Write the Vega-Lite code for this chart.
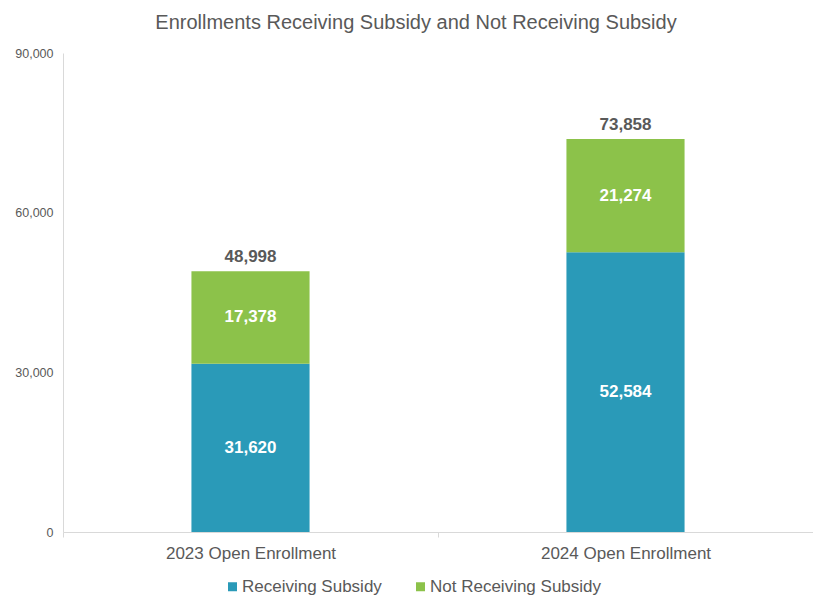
{
  "$schema": "https://vega.github.io/schema/vega-lite/v6.json",
  "autosize": {"type": "none"},
  "width": 750,
  "height": 479,
  "padding": {"left": 63, "top": 53, "right": 0, "bottom": 73},
  "background": "white",
  "config": {
    "view": {"stroke": null},
    "font": "Liberation Sans",
    "axisY": {
      "format": ",.0f",
      "ticks": false,
      "grid": false,
      "domainColor": "#d9d9d9",
      "labelFont": "Liberation Sans",
      "labelFontSize": 12.5,
      "labelColor": "#595959",
      "labelPadding": 10,
      "labelFlush": false
    }
  },
  "title": {
    "text": "Enrollments Receiving Subsidy and Not Receiving Subsidy",
    "font": "Liberation Sans",
    "fontSize": 20,
    "fontWeight": "normal",
    "color": "#595959",
    "anchor": "middle",
    "offset": 14,
    "dx": -22
  },
  "data": {
    "values": [
      {"period": "2023 Open Enrollment", "series": "Receiving Subsidy", "value": 31620},
      {"period": "2023 Open Enrollment", "series": "Not Receiving Subsidy", "value": 17378},
      {"period": "2024 Open Enrollment", "series": "Receiving Subsidy", "value": 52584},
      {"period": "2024 Open Enrollment", "series": "Not Receiving Subsidy", "value": 21274}
    ]
  },
  "encoding": {
    "x": {
      "field": "period",
      "type": "nominal",
      "title": null,
      "sort": null,
      "scale": {"paddingInner": 0, "paddingOuter": 0},
      "axis": {
        "labelAngle": 0,
        "tickBand": "extent",
        "tickColor": "#d9d9d9",
        "tickSize": 5,
        "domainColor": "#d9d9d9",
        "labelFont": "Liberation Sans",
        "labelFontSize": 17,
        "labelColor": "#595959",
        "labelPadding": 8
      }
    }
  },
  "layer": [
    {
      "transform": [
        {"stack": "value", "groupby": ["period"], "sort": [{"field": "series", "order": "descending"}], "as": ["v0", "v1"]}
      ],
      "mark": {"type": "bar", "width": {"band": 0.315}},
      "encoding": {
        "y": {
          "field": "v0",
          "type": "quantitative",
          "scale": {"domain": [0, 90000], "nice": false},
          "title": null,
          "axis": {"values": [0, 30000, 60000, 90000], "format": ",.0f", "title": null}
        },
        "y2": {"field": "v1"},
        "color": {
          "field": "series",
          "type": "nominal",
          "scale": {"domain": ["Receiving Subsidy", "Not Receiving Subsidy"], "range": ["#2a9ab8", "#8cc24a"]},
          "legend": {
            "title": null,
            "orient": "none",
            "legendX": 161,
            "legendY": 525,
            "direction": "horizontal",
            "symbolType": "square",
            "symbolSize": 81,
            "symbolStrokeWidth": 0,
            "labelFont": "Liberation Sans",
            "labelFontSize": 17,
            "labelColor": "#595959",
            "labelOffset": 1,
            "labelLimit": 300,
            "columnPadding": 30
          }
        }
      }
    },
    {
      "transform": [
        {"stack": "value", "groupby": ["period"], "sort": [{"field": "series", "order": "descending"}], "as": ["v0", "v1"]},
        {"calculate": "(datum.v0 + datum.v1) / 2", "as": "mid"}
      ],
      "mark": {"type": "text", "font": "Liberation Sans", "fontSize": 17, "fontWeight": "bold", "color": "white", "baseline": "middle"},
      "encoding": {
        "y": {"field": "mid", "type": "quantitative", "scale": {"domain": [0, 90000], "nice": false}, "title": null, "axis": {"values": [0, 30000, 60000, 90000], "format": ",.0f", "title": null}},
        "text": {"field": "value", "type": "quantitative", "format": ","}
      }
    },
    {
      "mark": {"type": "text", "font": "Liberation Sans", "fontSize": 17, "fontWeight": "bold", "color": "#595959", "baseline": "alphabetic", "dy": -9},
      "encoding": {
        "y": {"aggregate": "sum", "field": "value", "type": "quantitative", "scale": {"domain": [0, 90000], "nice": false}, "title": null, "axis": {"values": [0, 30000, 60000, 90000], "format": ",.0f", "title": null}},
        "text": {"aggregate": "sum", "field": "value", "type": "quantitative", "format": ","}
      }
    }
  ]
}
